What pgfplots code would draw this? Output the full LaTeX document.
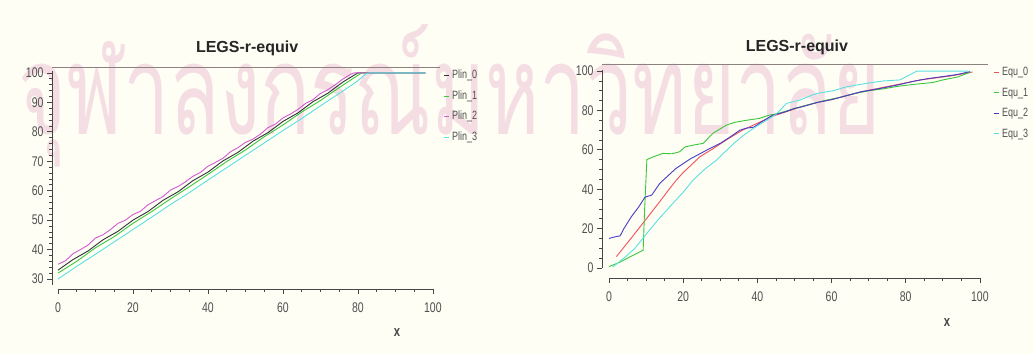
\documentclass[border=0pt]{standalone}
\usepackage{pgfplots}
\pgfplotsset{compat=1.18}
\usepackage{fontspec}
\setmainfont{Liberation Sans}
\newfontfamily\narrowfont[FakeStretch=0.75]{Liberation Sans}
\newfontfamily\thaifont[Script=Thai]{Loma}
\definecolor{bg}{RGB}{254,254,244}
\definecolor{wm}{RGB}{244,222,228}
\definecolor{axisc}{RGB}{70,70,70}
\definecolor{topc}{RGB}{140,128,128}
\definecolor{tickc}{RGB}{80,80,80}
\definecolor{cblack}{RGB}{50,50,60}
\definecolor{cgreen}{RGB}{60,200,60}
\definecolor{cmag}{RGB}{210,90,210}
\definecolor{ccyan}{RGB}{90,225,225}
\definecolor{cred}{RGB}{240,80,90}
\definecolor{cblue}{RGB}{70,60,200}
\pgfplotsset{
  legsty/.style={
    legend image code/.code={\draw[##1, line width=0.8pt] (0pt,0pt) -- (5pt,0pt);},
    legend style={draw=none, fill=none, inner sep=0pt, row sep=8.5pt,
      font=\narrowfont\fontsize{12}{12}\selectfont, text=tickc,
      nodes={inner sep=1pt, text height=8.5pt, text depth=1.5pt},
      /tikz/every odd column/.append style={column sep=2pt}},
    legend cell align=left},
  common/.style={
    scale only axis, clip=false,
    axis x line*=bottom, axis y line*=left,
    axis line style={draw=none},
    tick align=outside,
    major tick length=5pt, minor tick length=3pt,
    tick style={color=axisc, line width=0.7pt},
    /pgf/number format/assume math mode=true,
    ticklabel style={font=\narrowfont\fontsize{14}{14}\selectfont, text=tickc},
    xtick={0,20,40,60,80,100}, minor x tick num=3,
    xticklabel style={yshift=-5pt},
    every axis title shift=0pt,
    title style={font=\bfseries\fontsize{16}{16}\selectfont, text=black!85, anchor=center, yshift=0pt},
    xlabel={x},
    xlabel style={font=\narrowfont\bfseries\fontsize{15}{15}\selectfont, text=axisc, anchor=center},
    every axis plot/.append style={line width=0.9pt},
    legsty}
}
\begin{document}
\begin{tikzpicture}[x=1pt,y=1pt]
\fill[bg] (0,0) rectangle (1034,354);
\useasboundingbox (0,0) rectangle (1034,354);
\node[anchor=base west, inner sep=0pt, text=wm] at (18,219) {\resizebox{862pt}{110pt}{\thaifont จุฬาลงกรณ์มหาวิทยาลัย}};

\begin{axis}[common,
  at={(52pt,65pt)}, anchor=south west, width=388pt, height=222pt,
  xmin=-1.6, xmax=101.9, ymin=26.6, ymax=102,
  ytick={30,40,50,60,70,80,90,100}, minor y tick num=4,
  title={LEGS-r-equiv}, title style={at={(axis description cs:0.503,1.086)}},
  xlabel style={at={(axis description cs:0.889,-0.198)}},
  legend style={at={(axis description cs:1.008,0.99)}, anchor=north west}]
\addplot[cblack] coordinates {(0,33.0)(4,36.6)(8,39.5)(12,43.3)(16,46.2)(20,50.0)(24,52.9)(28,56.7)(32,59.6)(36,63.4)(40,66.3)(44,70.1)(48,73.0)(52,76.8)(56,79.7)(60,83.5)(64,86.4)(68,90.2)(72,93.1)(76,96.9)(80,100)(98,100)};
\addplot[cgreen] coordinates {(0,32)(5,36.0)(10,40.6)(15,44.4)(20,48.9)(25,52.9)(30,57.2)(35,61.3)(40,65.5)(45,69.9)(50,73.8)(55,78.3)(60,82.3)(65,86.7)(70,90.6)(75,95.0)(81,100)(98,100)};
\addplot[cmag] coordinates {(0,35.0)(2,36.2)(4,38.6)(6,40.0)(8,41.5)(10,43.9)(12,45.0)(14,46.8)(16,48.9)(18,50.0)(20,51.9)(22,53.0)(24,55.2)(26,56.6)(28,58.0)(30,60.2)(32,61.4)(34,63.0)(36,64.9)(38,66.2)(40,68.3)(42,69.6)(44,71.0)(46,73.2)(48,74.6)(50,76.4)(52,77.5)(54,79.2)(56,81.4)(58,82.6)(60,84.7)(62,86.0)(64,87.6)(66,89.6)(68,90.9)(70,93.0)(72,94.3)(74,96.0)(76,97.9)(78,99.5)(79,100)(98,100)};
\addplot[ccyan] coordinates {(0,30)(5,34.3)(10,38.4)(15,42.6)(20,46.8)(25,51.0)(30,55.3)(35,59.3)(40,63.6)(45,67.8)(50,72.0)(55,76.2)(60,80.4)(65,84.5)(70,88.8)(75,93.0)(80,97.3)(82,99.6)(83,100)(98,100)};
\legend{Plin\_0,Plin\_1,Plin\_2,Plin\_3}
\draw[axisc, line width=0.8pt] (axis cs:-1.6,28) -- (axis cs:-1.6,100.6);
\draw[axisc, line width=0.8pt] (axis cs:0,26.6) -- (axis cs:100,26.6);
\draw[topc, line width=0.9pt] (axis cs:-1.6,102) -- (axis cs:101.9,102);
\end{axis}

\begin{axis}[common,
  at={(602pt,76pt)}, anchor=south west, width=386pt, height=214pt,
  xmin=-1.9, xmax=102.2, ymin=-5.1, ymax=103.6,
  ytick={0,20,40,60,80,100}, minor y tick num=3,
  title={LEGS-r-equiv}, title style={at={(axis description cs:0.505,1.079)}},
  xlabel style={at={(axis description cs:0.894,-0.206)}},
  legend style={at={(axis description cs:1.013,0.99)}, anchor=north west}]
\addplot[cred] coordinates {(2,5.8)(4,10.5)(6,15.2)(8,20)(10,24.8)(11.9,29.4)(14,34.5)(16,39.5)(18.2,44.7)(20,48.5)(22,52)(24.5,56.5)(28,60.5)(32,65.5)(36,70)(40,73.5)(44,77)(48,79.5)(52,82)(56,84)(60,85.5)(64,87.5)(68,89.5)(72,91)(76,92.5)(80,94)(84,95.5)(88,96.5)(92,97.5)(96,98.8)(98,99.5)};
\addplot[cgreen] coordinates {(0,0.7)(3,3)(6,6)(9.2,9)(9.6,30)(10.2,55)(12,56.5)(14.5,58.2)(17,58)(19,59)(20.5,61.5)(23,62.5)(25.4,63.3)(28,68.4)(31.7,72.6)(34,74)(37,75)(40.6,76)(43,77.5)(46,78.7)(50,81)(54,83)(58,85)(62,86.5)(66,88.5)(70,90)(74,91)(78,92.3)(82,93.2)(87.3,94.2)(90,95.5)(94,97)(97.5,99.5)};
\addplot[cblue] coordinates {(0,15)(2,16)(3,16.3)(4,20)(6,26)(8,31)(9.7,36)(11.5,37)(13.7,43)(16,47)(18,50.5)(20,53)(22,55.5)(24.5,58)(27,60.5)(30,63.3)(33,67)(35.3,70)(37,71)(39,71.5)(41,74)(44,77.5)(47,79)(50,81)(52.3,82)(56,84)(60,85.5)(64,87.5)(68,89.5)(70.3,90.2)(74,91.5)(78,93)(82,94.8)(86,96.2)(90,97.2)(94,98.3)(97.3,99.7)};
\addplot[ccyan] coordinates {(1,0.5)(4,5)(7,10)(10.2,17.6)(13,24)(17.3,33)(20,38.5)(22.7,44.7)(26,50.5)(29,54.8)(31,58.5)(33.5,63)(36,67)(39,71)(42,74.5)(45,78)(47.9,83.6)(51.5,85.3)(55,88)(57,89)(60.4,90)(64,92)(69.5,93.8)(74,95)(78.4,95.5)(81,98)(83,100)(90,100)(97,100)};
\legend{Equ\_0,Equ\_1,Equ\_2,Equ\_3}
\draw[axisc, line width=0.8pt] (axis cs:-1.9,0) -- (axis cs:-1.9,100.5);
\draw[axisc, line width=0.8pt] (axis cs:0,-5.1) -- (axis cs:100,-5.1);
\draw[topc, line width=0.9pt] (axis cs:-1.9,103.6) -- (axis cs:102.2,103.6);
\end{axis}
\end{tikzpicture}
\end{document}
